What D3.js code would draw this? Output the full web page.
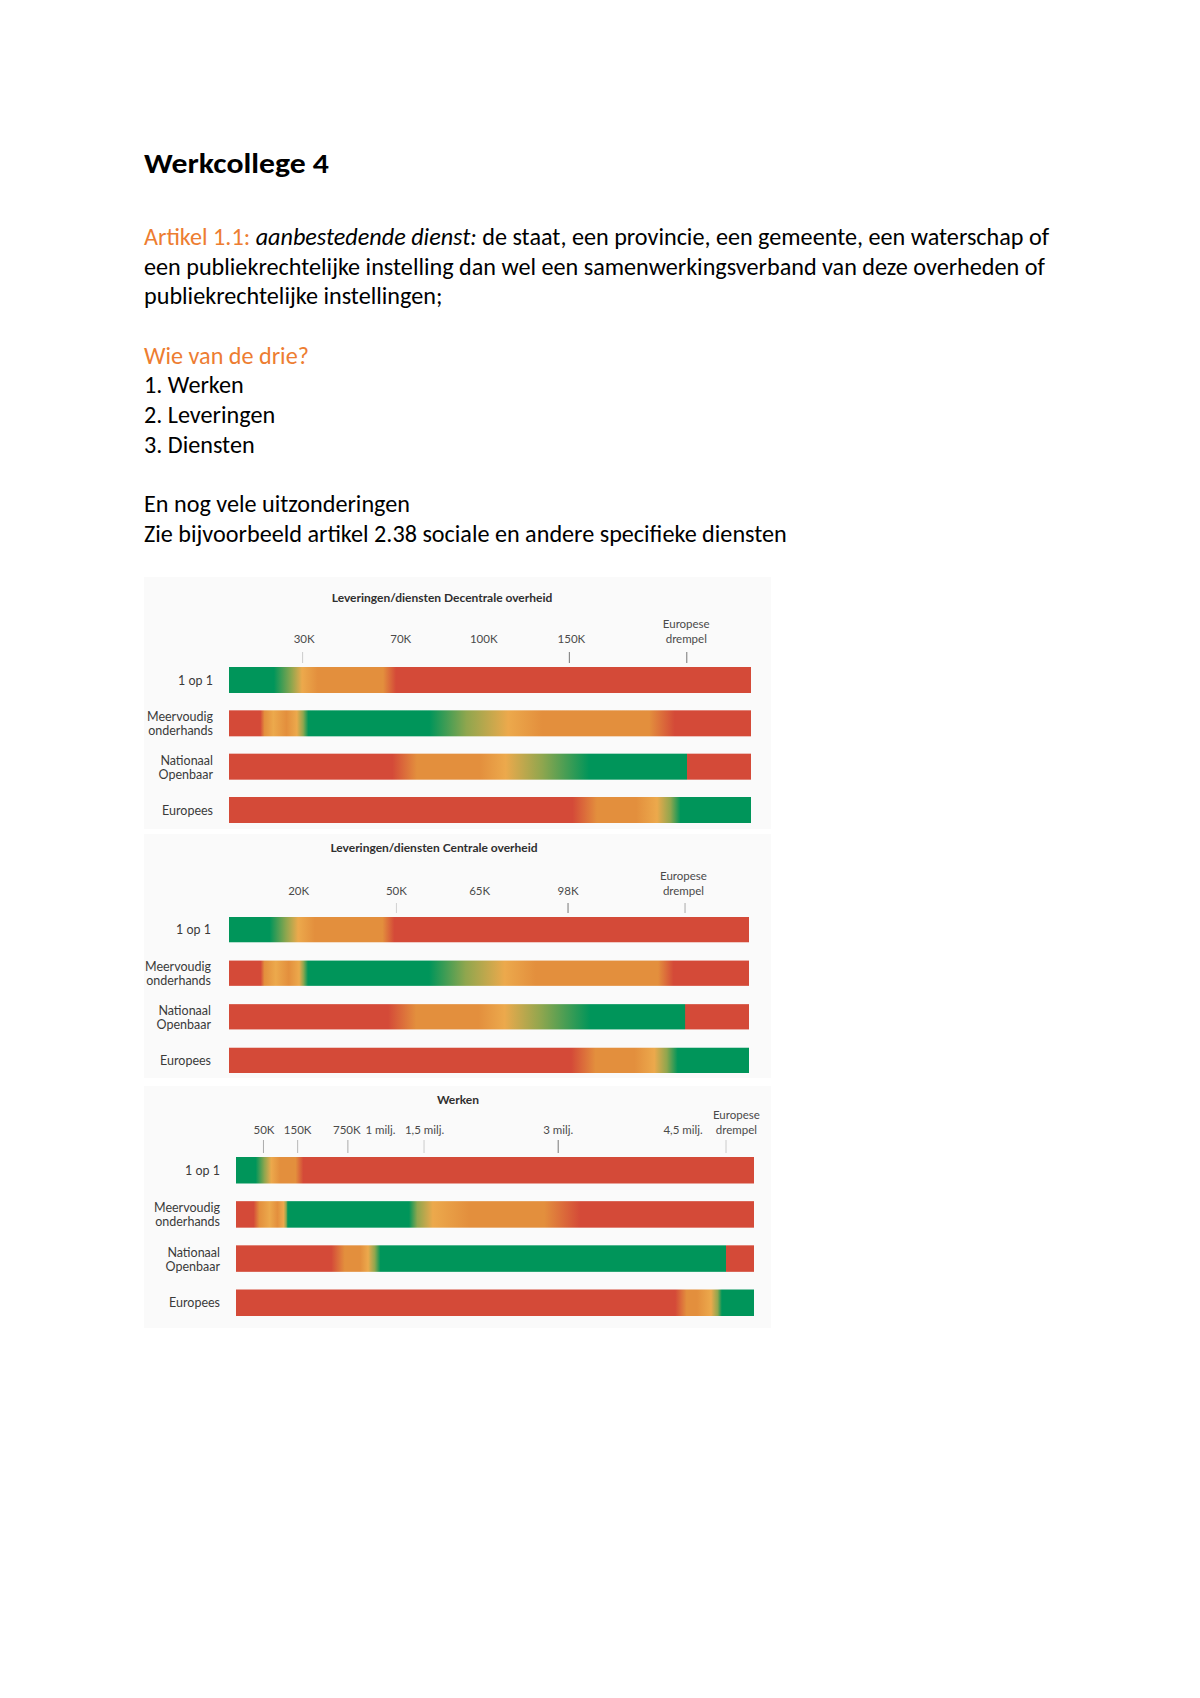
<!DOCTYPE html>
<html>
<head>
<meta charset="utf-8">
<script src="https://cdn.jsdelivr.net/npm/d3@7/dist/d3.min.js"></script>
<style>
html,body{margin:0;padding:0;background:#fff;}
svg{display:block;}
</style>
</head>
<body>
<svg id="page" width="1200" height="1698"></svg>
<script>
// ---------- DATA ----------
const categories = ["1 op 1", "Meervoudig\nonderhands", "Nationaal\nOpenbaar", "Europees"];

// Leveringen/diensten Decentrale overheid
const decTickLabels = ["30K", "70K", "100K", "150K", "Europese\ndrempel"];
const decLabelPos   = [14.4, 32.9, 48.8, 65.6, 87.6];
const decTickPos    = [14.1, 32.9, 48.8, 65.2, 87.7];
const decTickShow   = [0.35, 0, 0, 1, 1];
const decRow1 = [[0,"g"],[8.6,"g"],[12.0,"y"],[14.0,"l"],[17,"o"],[29.5,"o"],[32,"r"],[100,"r"]];
const decRow2 = [[0,"r"],[6.0,"r"],[6.8,"o"],[8.5,"l"],[11,"o"],[13,"l"],[14.2,"y"],[15.2,"g"],[38.4,"g"],[45.5,"y"],[53.5,"l"],[60,"o"],[80.5,"o"],[85.4,"r"],[100,"r"]];
const decRow3 = [[0,"r"],[31.3,"r"],[36,"o"],[48,"o"],[53,"l"],[60,"y"],[69,"g"],[87.7,"g"],[87.8,"r"],[100,"r"]];
const decRow4 = [[0,"r"],[65.8,"r"],[70.5,"o"],[78,"o"],[82,"l"],[84.6,"y"],[86.5,"g"],[100,"g"]];

// Leveringen/diensten Centrale overheid
const cenTickLabels = ["20K", "50K", "65K", "98K", "Europese\ndrempel"];
const cenLabelPos   = [13.4, 32.2, 48.2, 65.2, 87.4];
const cenTickPos    = [13.4, 32.2, 48.2, 65.2, 87.7];
const cenTickShow   = [0, 0.3, 0, 1, 0.6];
const cenRow1 = [[0,"g"],[7.8,"g"],[11,"y"],[13.3,"l"],[16.5,"o"],[29.5,"o"],[31.8,"r"],[100,"r"]];
const cenRow2 = [[0,"r"],[6.1,"r"],[6.8,"o"],[9,"l"],[11.5,"o"],[13.5,"l"],[14.3,"y"],[15.2,"g"],[38.5,"g"],[45.5,"y"],[53,"l"],[59,"o"],[82.5,"o"],[85.5,"r"],[100,"r"]];
const cenRow3 = [[0,"r"],[30.6,"r"],[36,"o"],[48,"o"],[53,"l"],[60,"y"],[69.5,"g"],[87.7,"g"],[87.8,"r"],[100,"r"]];
const cenRow4 = [[0,"r"],[65.8,"r"],[70.5,"o"],[78,"o"],[81.8,"l"],[84.2,"y"],[86.3,"g"],[100,"g"]];

// Werken
const wrkTickLabels = ["50K", "150K", "750K", "1 milj.", "1,5 milj.", "3 milj.", "4,5 milj.", "Europese\ndrempel"];
const wrkLabelPos   = [5.4, 11.9, 21.4, 27.9, 36.4, 62.2, 86.3, 96.6];
const wrkTickPos    = [5.3, 11.9, 21.6, 27.9, 36.3, 62.2, 86.3, 94.6];
const wrkTickShow   = [0.6, 0.5, 0.6, 0, 0.35, 1, 0, 0.35];
const wrkRow1 = [[0,"g"],[3.8,"g"],[5.5,"y"],[6.8,"l"],[8.5,"o"],[11.5,"o"],[13,"r"],[100,"r"]];
const wrkRow2 = [[0,"r"],[3.4,"r"],[4.5,"o"],[6.5,"l"],[8,"o"],[9.2,"l"],[9.7,"y"],[10,"g"],[33.4,"g"],[35,"y"],[38,"l"],[45,"o"],[59.5,"o"],[66.5,"r"],[100,"r"]];
const wrkRow3 = [[0,"r"],[18.4,"r"],[21,"o"],[24,"o"],[25.5,"l"],[26.8,"y"],[27.9,"g"],[94.5,"g"],[94.6,"r"],[100,"r"]];
const wrkRow4 = [[0,"r"],[84.8,"r"],[87,"o"],[89,"o"],[91.7,"l"],[93,"y"],[93.8,"g"],[100,"g"]];

// Page text
const titleText = "Werkcollege 4";
const bodyLines = [
  [["Artikel 1.1:", "orange", "normal"], [" ", "black", "normal"], ["aanbestedende dienst:", "black", "italic"], [" de staat, een provincie, een gemeente, een waterschap of", "black", "normal"]],
  [["een publiekrechtelijke instelling dan wel een samenwerkingsverband van deze overheden of", "black", "normal"]],
  [["publiekrechtelijke instellingen;", "black", "normal"]],
  [],
  [["Wie van de drie?", "orange", "normal"]],
  [["1. Werken", "black", "normal"]],
  [["2. Leveringen", "black", "normal"]],
  [["3. Diensten", "black", "normal"]],
  [],
  [["En nog vele uitzonderingen", "black", "normal"]],
  [["Zie bijvoorbeeld artikel 2.38 sociale en andere specifieke diensten", "black", "normal"]]
];

// ---------- STYLE ----------
const colorMap = { g: "#00955a", y: "#8fa64e", l: "#eca94c", o: "#e38f3d", r: "#d44a38" };
const textColor = { orange: "#ed7d31", black: "#000000" };
const bodyFont = "Carlito, Calibri, Lato, sans-serif";
const chartFont = "Lato, 'Open Sans', sans-serif";

const svg = d3.select("#page");
svg.append("rect").attr("width", 1200).attr("height", 1698).attr("fill", "#ffffff");
const defs = svg.append("defs");

// ---------- HEADER TEXT ----------
const title = svg.append("text")
  .attr("x", 144).attr("y", 173)
  .attr("font-family", bodyFont).attr("font-weight", "bold").attr("font-size", 28)
  .attr("fill", "#000").text(titleText);
{
  const w = title.node().getComputedTextLength();
  const k = 185 / w;
  title.attr("transform", `translate(144,0) scale(${k},1) translate(-144,0)`);
}

const bodyG = svg.append("g");
const lineNodes = [];
bodyLines.forEach((parts, i) => {
  if (!parts.length) return;
  const t = bodyG.append("text")
    .attr("x", 144).attr("y", 245 + i * 29.7)
    .attr("font-family", bodyFont).attr("font-size", 24)
    .attr("xml:space", "preserve");
  parts.forEach(p => {
    t.append("tspan").attr("fill", textColor[p[1]]).attr("font-style", p[2]).text(p[0]);
  });
  lineNodes.push(t);
});
{
  const ref = lineNodes[1].node().getComputedTextLength();
  const k = 901 / ref;
  lineNodes.forEach(t => t.attr("transform", `translate(144,0) scale(${k},1) translate(-144,0)`));
}

// ---------- CHART PANELS ----------
let gid = 0;
function drawPanel(cfg) {
  const g = svg.append("g");
  g.append("rect")
    .attr("x", cfg.panel[0]).attr("y", cfg.panel[1])
    .attr("width", cfg.panel[2] - cfg.panel[0]).attr("height", cfg.panel[3] - cfg.panel[1])
    .attr("fill", "#fafafa");

  const x = d3.scaleLinear().domain([0, 100]).range(cfg.xRange);
  const y = d3.scaleBand().domain(categories).range(cfg.yRange).paddingInner(cfg.pad);

  // title
  g.append("text")
    .attr("x", cfg.titleX).attr("y", cfg.titleY)
    .attr("text-anchor", "middle")
    .attr("font-family", chartFont).attr("font-weight", "bold").attr("font-size", 12)
    .attr("fill", "#2f2f2f").text(cfg.title);

  // ticks
  cfg.tickPos.forEach((p, i) => {
    if (cfg.tickShow[i] > 0) {
      g.append("line")
        .attr("x1", x(p)).attr("x2", x(p))
        .attr("y1", cfg.tickY[0]).attr("y2", cfg.tickY[1])
        .attr("stroke", "#777").attr("stroke-width", 1)
        .attr("opacity", cfg.tickShow[i]);
    }
  });
  // tick labels
  cfg.tickLabels.forEach((lab, i) => {
    const lines = lab.split("\n");
    const t = g.append("text")
      .attr("text-anchor", "middle")
      .attr("font-family", chartFont).attr("font-size", 11.5)
      .attr("fill", "#4a4a4a");
    lines.forEach((ln, j) => {
      t.append("tspan")
        .attr("x", x(cfg.labelPos[i]))
        .attr("y", cfg.labelY - (lines.length - 1 - j) * 15)
        .text(ln);
    });
  });

  // bars
  categories.forEach((cat, i) => {
    const id = "grad" + (gid++);
    const lg = defs.append("linearGradient").attr("id", id)
      .attr("x1", 0).attr("x2", 1).attr("y1", 0).attr("y2", 0);
    const x0 = cfg.xRange[0], w = cfg.xRange[1] - cfg.xRange[0];
    cfg.rows[i].forEach(s => {
      lg.append("stop").attr("offset", ((x(s[0]) - x0) / w).toFixed(4)).attr("stop-color", colorMap[s[1]]);
    });
    g.append("rect")
      .attr("x", x(0)).attr("y", y(cat))
      .attr("width", x(100) - x(0)).attr("height", y.bandwidth())
      .attr("fill", `url(#${id})`);

    // row label
    const lines = cat.split("\n");
    const c = y(cat) + y.bandwidth() / 2;
    const t = g.append("text")
      .attr("text-anchor", "end")
      .attr("font-family", chartFont).attr("font-size", 12.5)
      .attr("fill", "#3a3a3a");
    lines.forEach((ln, j) => {
      const base = lines.length === 1 ? c + 4.5 : c - 2 + j * 14;
      t.append("tspan").attr("x", cfg.labelX).attr("y", base).text(ln);
    });
  });
}

drawPanel({
  panel: [144, 577, 771, 829],
  title: "Leveringen/diensten Decentrale overheid", titleX: 442, titleY: 602,
  xRange: [229, 751], yRange: [667, 823], pad: 0.4,
  tickLabels: decTickLabels, labelPos: decLabelPos, tickPos: decTickPos, tickShow: decTickShow,
  labelY: 643, tickY: [652, 663], labelX: 213,
  rows: [decRow1, decRow2, decRow3, decRow4]
});
drawPanel({
  panel: [144, 834, 771, 1078],
  title: "Leveringen/diensten Centrale overheid", titleX: 434, titleY: 852,
  xRange: [229, 749], yRange: [917, 1073], pad: 0.42,
  tickLabels: cenTickLabels, labelPos: cenLabelPos, tickPos: cenTickPos, tickShow: cenTickShow,
  labelY: 895, tickY: [903, 913], labelX: 211,
  rows: [cenRow1, cenRow2, cenRow3, cenRow4]
});
drawPanel({
  panel: [144, 1086, 771, 1328],
  title: "Werken", titleX: 458, titleY: 1104,
  xRange: [236, 754], yRange: [1157, 1316], pad: 0.4,
  tickLabels: wrkTickLabels, labelPos: wrkLabelPos, tickPos: wrkTickPos, tickShow: wrkTickShow,
  labelY: 1134, tickY: [1140, 1153], labelX: 220,
  rows: [wrkRow1, wrkRow2, wrkRow3, wrkRow4]
});
</script>
</body>
</html>
